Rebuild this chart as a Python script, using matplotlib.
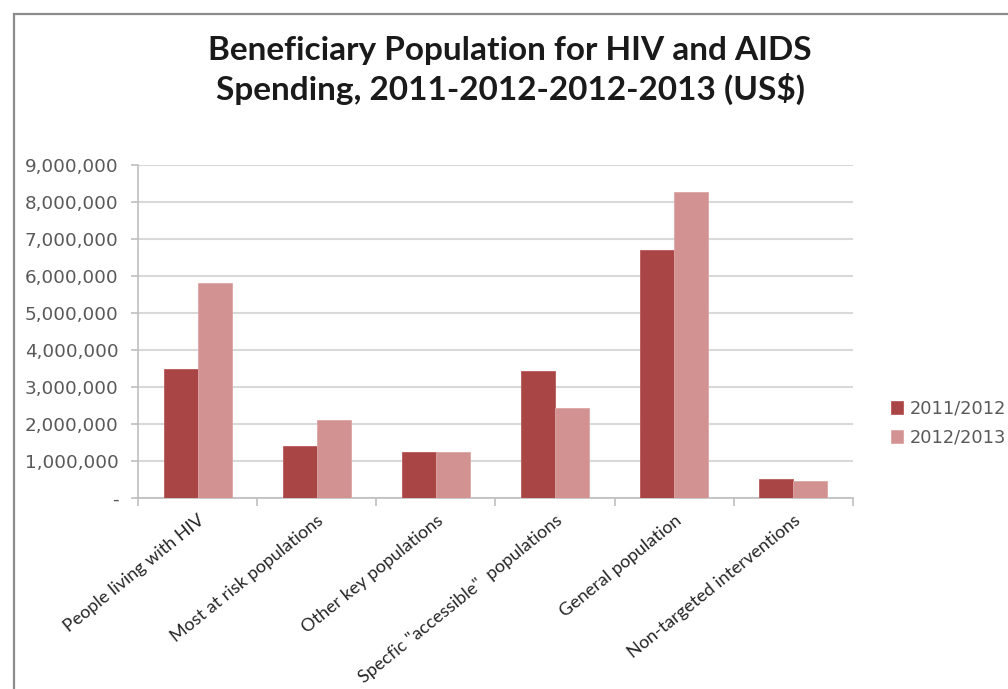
import matplotlib
matplotlib.use("Agg")

import matplotlib.pyplot as plt
import numpy as np
from matplotlib.patches import Rectangle
from matplotlib.ticker import FuncFormatter

# data
categories = ["People living with HIV", "Most at risk populations", "Other key populations",
              "Specfic \"accessible\"  populations", "General population",
              "Non-targeted interventions"]
series_names = ["2011/2012", "2012/2013"]
values_2011 = [3490000, 1420000, 1260000, 3430000, 6700000, 530000]
values_2012 = [5800000, 2120000, 1260000, 2430000, 8260000, 475000]
yticks = [0, 1000000, 2000000, 3000000, 4000000, 5000000, 6000000, 7000000, 8000000, 9000000]

dark = "#A94645"
light = "#D29292"
grid_col = "#D9D9D9"
label_col = "#595959"

fig = plt.figure(figsize=(10.08, 6.89), dpi=100)
ax = fig.add_axes([0.137, 0.277, 0.709, 0.4835])

# outer chart frame
fig.patches.append(Rectangle((14 / 1008, -0.1), 1.2, 1 - 14 / 689 + 0.1, transform=fig.transFigure,
                             fill=False, edgecolor="#8C8C8C", lw=1.6, zorder=0))

x = np.arange(len(categories))
w = 0.285
ax.bar(x - w / 2, values_2011, w, color=dark, edgecolor="#B85A59", lw=0.6, label=series_names[0], zorder=3)
ax.bar(x + w / 2, values_2012, w, color=light, edgecolor="#DDA6A6", lw=0.6, label=series_names[1], zorder=3)

ax.set_xlim(-0.5, len(categories) - 0.5)
ax.set_ylim(0, 9000000)
ax.set_yticks(yticks)
ax.yaxis.set_major_formatter(FuncFormatter(lambda v, p: "-" if v == 0 else f"{int(v):,}"))
ax.grid(axis="y", color=grid_col, lw=1.5, zorder=0)
ax.set_axisbelow(True)

for s in ["top", "right"]:
    ax.spines[s].set_visible(False)
for s in ["left", "bottom"]:
    ax.spines[s].set_color("#BFBFBF")
    ax.spines[s].set_linewidth(1.2)

ax.tick_params(axis="y", colors="#BFBFBF", length=5, width=1.2, pad=9, labelcolor=label_col, labelsize=13.2)
ax.set_xticks(np.arange(len(categories) + 1) - 0.5, minor=False)
ax.set_xticklabels([])
ax.tick_params(axis="x", which="major", colors="#BFBFBF", length=6, width=1.2)
ax.set_xticks(x, minor=True)
ax.set_xticklabels(categories, minor=True, rotation=39, ha="right", va="top",
                   rotation_mode="anchor", fontsize=13, family="Lato", color="#262626")
ax.tick_params(axis="x", which="minor", length=0, pad=10)

fig.text(0.506, 0.898, "Beneficiary Population for HIV and AIDS\nSpending, 2011-2012-2012-2013 (US$)",
         ha="center", va="center", fontsize=24, fontweight="bold", family="Lato",
         color="#1A1A1A", linespacing=1.3)

leg = fig.legend(loc="center left", bbox_to_anchor=(0.868, 0.386), frameon=False,
                 fontsize=12.8, handlelength=0.7, handleheight=0.7, handletextpad=0.35,
                 labelspacing=0.62, labelcolor=label_col)

fig.savefig("out.png", dpi=100)
